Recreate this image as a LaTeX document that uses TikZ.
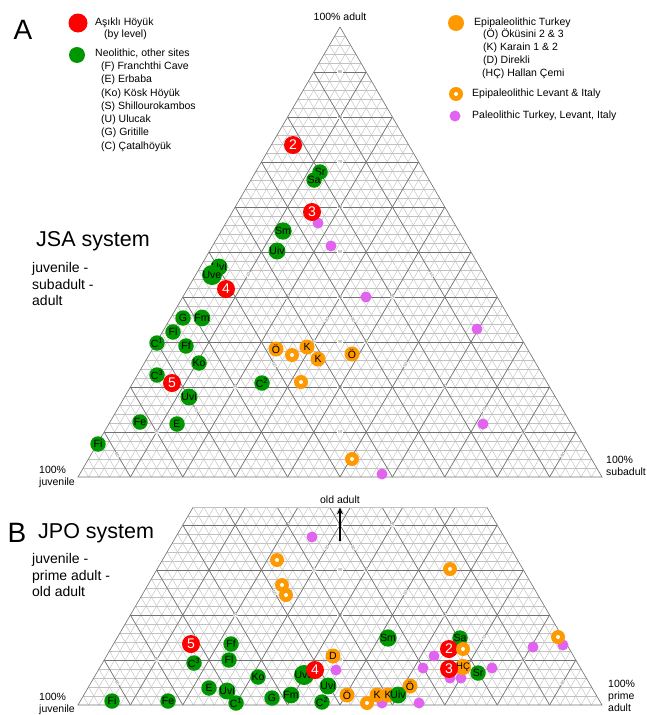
\documentclass[tikz,border=0pt]{standalone}
\usepackage{fontspec}
\setmainfont{Liberation Sans}
\usetikzlibrary{arrows.meta, calc}

\definecolor{lvlred}{RGB}{255,0,0}
\definecolor{neogreen}{RGB}{0,150,0}
\definecolor{epiorange}{RGB}{255,153,0}
\definecolor{paleopink}{RGB}{225,100,240}

\begin{document}
\begin{tikzpicture}[
    x=1pt, y=-1pt,
    minorline/.style={black!24, line width=0.45pt},
    majorline/.style={black!55, line width=0.65pt},
    tick/.style={font=\fontsize{4}{4}\selectfont, text=black!60, fill=white, inner sep=0.3pt, sloped},
    dot/.style={circle, inner sep=0pt, font=\fontsize{10.5}{11}\selectfont},
    lvl/.style={dot, fill=lvlred, minimum size=18pt, text=white, font=\fontsize{14}{14}\selectfont},
    neo/.style={dot, fill=neogreen, minimum size=15.5pt},
    epi/.style={dot, fill=epiorange, minimum size=15pt},
    epiring/.style={dot, fill=epiorange, minimum size=14pt, path picture={\fill[white] (path picture bounding box.center) circle (2pt);}},
    paleo/.style={dot, fill=paleopink, minimum size=11pt},
    legend/.style={anchor=west, inner sep=0pt, align=left, font=\fontsize{10.5}{13.3}\selectfont},
    corner/.style={anchor=west, inner sep=0pt, align=left, font=\fontsize{10.5}{12.3}\selectfont},
    system/.style={anchor=west, inner sep=0pt, font=\fontsize{21.5}{22}\selectfont},
    trio/.style={anchor=west, inner sep=0pt, align=left, font=\fontsize{14}{16.5}\selectfont},
    panel/.style={inner sep=0pt, font=\fontsize{28}{28}\selectfont}
]
\useasboundingbox (0,0) rectangle (647,715);

% Triangle corners
\coordinate (aL) at (78,477);
\coordinate (aR) at (602,477);
\coordinate (aT) at (340,27);
\coordinate (bL) at (78,705);
\coordinate (bR) at (602,705);
\coordinate (bT) at (340,255);

% Ternary grids (B is cut at 44% old adult)
\foreach \p/\cut in {a/1, b/0.44} {
  \begin{scope}
    \clip (\p L) -- (\p R) -- ($(\p R)!\cut!(\p T)$) -- ($(\p L)!\cut!(\p T)$) -- cycle;
    \foreach \i in {1,...,49} {
      \draw[minorline] ($(\p L)!\i/50!(\p T)$) -- ($(\p R)!\i/50!(\p T)$);
      \draw[minorline] ($(\p L)!\i/50!(\p R)$) -- ($(\p T)!\i/50!(\p R)$);
      \draw[minorline] ($(\p L)!\i/50!(\p R)$) -- ($(\p L)!\i/50!(\p T)$);
    }
    \foreach \i in {5,10,...,45} {
      \pgfmathtruncatemacro{\v}{2*\i}
      \pgfmathtruncatemacro{\w}{100-2*\i}
      \draw[majorline] ($(\p L)!\i/50!(\p T)$) -- node[tick]{\v} ($(\p R)!\i/50!(\p T)$);
      \draw[majorline] ($(\p L)!\i/50!(\p R)$) -- node[tick]{\v} ($(\p T)!\i/50!(\p R)$);
      \draw[majorline] ($(\p L)!\i/50!(\p R)$) -- node[tick]{\w} ($(\p L)!\i/50!(\p T)$);
    }
  \end{scope}
  \draw[majorline] ($(\p L)!\cut!(\p T)$) -- (\p L) -- (\p R) -- ($(\p R)!\cut!(\p T)$);
  \draw[minorline] ($(\p L)!\cut!(\p T)$) -- ($(\p R)!\cut!(\p T)$);
}

% Panel A - titles and corners
\node[panel] (aLetter) at (23,30) {A};
\node[system] (aSystem) at (36,241) {JSA system};
\node[trio] (aTrio) at (32,284) {juvenile -\\subadult -\\adult};
\node[font=\fontsize{10.5}{12}\selectfont, inner sep=0pt] (aTop) at (340,17) {100\% adult};
\node[corner] (aJuv) at (39,477) {100\%\\juvenile};
\node[corner] (aSub) at (606,466) {100\%\\subadult};

% Legend
\node[lvl, minimum size=19pt] (lgLvl) at (78,23) {};
\node[legend, font=\fontsize{10.5}{11.5}\selectfont] (lgLvlTxt) at (95,29) {Aşıklı Höyük\\\hspace*{9pt}(by level)};
\node[neo, minimum size=16pt] (lgNeo) at (77,55) {};
\node[legend] (lgNeoTxt) at (95,100) {Neolithic, other sites\\\hspace*{6pt}(F) Franchthi Cave\\\hspace*{6pt}(E) Erbaba\\\hspace*{6pt}(Ko) Kösk Höyük\\\hspace*{6pt}(S) Shillourokambos\\\hspace*{6pt}(U) Ulucak\\\hspace*{6pt}(G) Gritille\\\hspace*{6pt}(C) Çatalhöyük};
\node[epi, minimum size=16pt] (lgEpi) at (456,23) {};
\node[legend, font=\fontsize{10.5}{12.8}\selectfont] (lgEpiTxt) at (474,48) {Epipaleolithic Turkey\\\hspace*{9pt}(Ö) Öküsini 2 \& 3\\\hspace*{9pt}(K) Karain 1 \& 2\\\hspace*{9pt}(D) Direkli\\\hspace*{8pt}(HÇ) Hallan Çemi};
\node[epiring] (lgRing) at (456,94) {};
\node[legend] (lgRingTxt) at (472,94) {Epipaleolithic Levant \& Italy};
\node[paleo] (lgPaleo) at (455,116) {};
\node[legend] (lgPaleoTxt) at (472,116) {Paleolithic Turkey, Levant, Italy};

% Panel A - data
\node[paleo] (aP1) at (318,223) {};
\node[paleo] (aP2) at (331,246) {};
\node[paleo] (aP3) at (366,297) {};
\node[paleo] (aP4) at (477,329) {};
\node[paleo] (aP5) at (483,424) {};
\node[paleo] (aP6) at (382,474) {};
\node[epiring] (aR1) at (292,355) {};
\node[epiring] (aR2) at (301,382) {};
\node[epiring] (aR3) at (352,459) {};
\node[epi] (aOa) at (276,349) {Ö};
\node[epi] (aKa) at (307,347) {K};
\node[epi] (aKb) at (318,359) {K};
\node[epi] (aOb) at (352,354) {Ö};
\node[neo] (aSr) at (320,172) {Sr};
\node[neo] (aSa) at (314,180) {Sa};
\node[neo] (aSm) at (283,231) {Sm};
\node[neo] (aUiv) at (277,251) {Uiv};
\node[neo] (aUvi) at (219,267) {Uvi};
\node[neo] (aUve) at (212,275) {Uve};
\node[neo] (aG) at (183,318) {G};
\node[neo] (aFm) at (202,318) {Fm};
\node[neo] (aFl) at (173,332) {Fl};
\node[neo] (aCa) at (157,343) {C\textsuperscript{1}};
\node[neo] (aFf) at (186,346) {Ff};
\node[neo] (aKo) at (199,363) {Ko};
\node[neo] (aCc) at (157,375) {C\textsuperscript{3}};
\node[neo] (aCb) at (262,383) {C\textsuperscript{2}};
\node[neo] (aUvl) at (189,397) {Uvi};
\node[neo] (aFe) at (140,422) {Fe};
\node[neo] (aE) at (177,424) {E};
\node[neo] (aFi) at (98,444) {Fi};
\node[lvl] (a2) at (293,145) {2};
\node[lvl] (a3) at (312,212) {3};
\node[lvl] (a4) at (226,289) {4};
\node[lvl] (a5) at (172,383) {5};

% Panel B - titles and corners
\node[panel] (bLetter) at (17,533) {B};
\node[system] (bSystem) at (38,533) {JPO system};
\node[trio] (bTrio) at (32,575) {juvenile -\\prime adult -\\old adult};
\node[font=\fontsize{10.5}{12}\selectfont] (bTop) at (340,500) {old adult};
\coordinate (bTail) at (340,541);
\draw[-{Stealth[length=7pt,width=6pt]}, line width=1.8pt] (bTail) -- (bTop.south);
\node[corner] (bJuv) at (39,704) {100\%\\juvenile};
\node[corner, font=\fontsize{10.5}{12}\selectfont] (bPrime) at (608,696) {100\%\\prime\\adult};

% Panel B - data
\node[paleo] (bP1) at (312,537) {};
\node[paleo] (bP2) at (533,647) {};
\node[paleo] (bP3) at (563,645) {};
\node[paleo] (bP4) at (434,656) {};
\node[paleo] (bP5) at (336,670) {};
\node[paleo] (bP6) at (423,668) {};
\node[paleo] (bP7) at (492,668) {};
\node[paleo] (bP8) at (450,678) {};
\node[paleo] (bP9) at (461,678) {};
\node[paleo] (bP10) at (382,703) {};
\node[paleo] (bP11) at (419,703) {};
\node[epiring] (bR1) at (277,560) {};
\node[epiring] (bR2) at (282,585) {};
\node[epiring] (bR3) at (286,595) {};
\node[epiring] (bR4) at (450,569) {};
\node[epiring] (bR5) at (558,637) {};
\node[epiring] (bR6) at (367,703) {};
\node[epi] (bD) at (333,656) {D};
\node[epi, font=\fontsize{9.5}{10}\selectfont] (bHC) at (463,667) {HÇ};
\node[epi] (bOa) at (410,686) {Ö};
\node[epi] (bOb) at (347,695) {Ö};
\node[epi] (bKa) at (377,695) {K};
\node[epi] (bKb) at (388,695) {K};
\node[neo] (bFf) at (231,644) {Ff};
\node[neo] (bFl) at (229,660) {Fl};
\node[neo] (bCc) at (194,663) {C\textsuperscript{3}};
\node[neo] (bKo) at (258,677) {Ko};
\node[neo] (bE) at (209,688) {E};
\node[neo] (bUvl) at (227,691) {Uvi};
\node[neo] (bCa) at (236,703) {C\textsuperscript{1}};
\node[neo] (bFi) at (112,701) {Fi};
\node[neo] (bFe) at (168,701) {Fe};
\node[neo] (bG) at (272,698) {G};
\node[neo] (bFm) at (291,695) {Fm};
\node[neo] (bUve) at (304,675) {Uve};
\node[neo] (bUvi) at (328,686) {Uvi};
\node[neo] (bCb) at (322,702) {C\textsuperscript{2}};
\node[neo] (bSm) at (388,638) {Sm};
\node[neo] (bSa) at (460,638) {Sa};
\node[neo] (bSr) at (478,673) {Sr};
\node[neo] (bUiv) at (398,695) {Uiv};
\node[lvl] (b5) at (191,644) {5};
\node[lvl] (b4) at (315,670) {4};
\node[lvl] (b2) at (449,649) {2};
\node[lvl] (b3) at (449,669) {3};
\node[epiring] (bR7) at (463,649) {};

\end{tikzpicture}
\end{document}
